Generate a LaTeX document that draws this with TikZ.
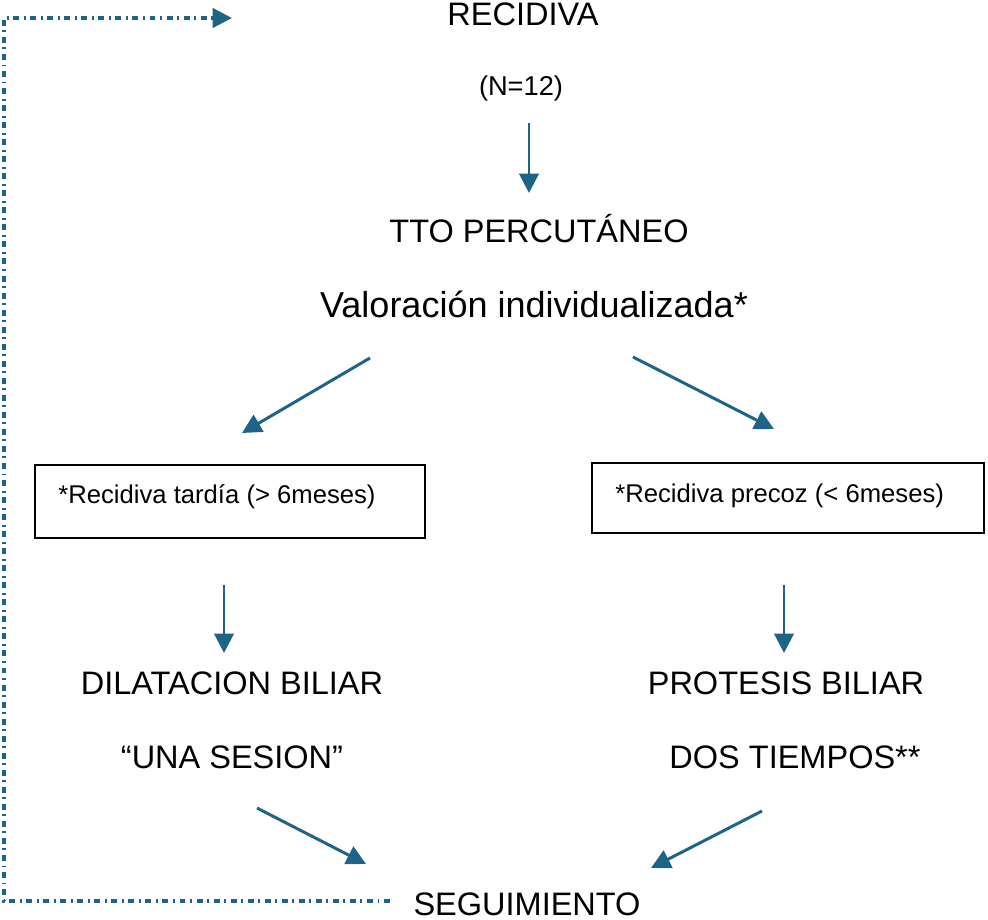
\documentclass[tikz,border=0pt]{standalone}
\usepackage{fontspec}
\setmainfont{Liberation Sans}
\usetikzlibrary{arrows.meta}
\definecolor{flecha}{RGB}{30,100,135}
\tikzset{
  flechita/.style={draw=flecha, line width=1.7pt, -{Triangle[length=11pt,width=11pt]}},
  retorno/.style={draw=flecha, line width=1.9pt, dash pattern=on 3.4pt off 2.6pt on 1.1pt off 2.6pt, -{Triangle[length=11pt,width=11pt]}},
  grande/.style={font=\fontsize{18.5}{20}\selectfont, anchor=base, inner sep=0pt},
  chico/.style={font=\fontsize{14.6}{16}\selectfont, anchor=base west, inner sep=0pt},
  caja/.style={draw, line width=1.5pt},
}

\begin{document}
\begin{tikzpicture}[x=0.02cm, y=-0.02cm]
	\useasboundingbox (0,0) rectangle (988,920);
	% textos
	\node[grande] (recidiva) at (523,25) {RECIDIVA};
	\node[grande, font=\fontsize{15.5}{17}\selectfont] (n) at (521,95) {(N=12)};
	\node[grande] (tto) at (539,242) {TTO PERCUTÁNEO};
	\node[grande, font=\fontsize{20.5}{22}\selectfont] (valor) at (534,317) {Valoración individualizada*};
	\node[grande] (dilat) at (232,694) {DILATACION BILIAR};
	\node[grande] (sesion) at (232,768) {“UNA SESION”};
	\node[grande] (protesis) at (786,694) {PROTESIS BILIAR};
	\node[grande] (tiempos) at (795,768) {DOS TIEMPOS**};
	\node[grande] (seguim) at (527,915) {SEGUIMIENTO};
	% cajas
	\draw[caja] (35,465) rectangle (425,538);
	\draw[caja] (592,463) rectangle (984,533);
	\node[chico] (tardia) at (58,503) {*Recidiva tardía (> 6meses)};
	\node[chico] (precoz) at (615,502) {*Recidiva precoz (< 6meses)};
	% extremos de las flechas
	\coordinate (a1) at (529,123);  \coordinate (b1) at (529,193);
	\coordinate (a2) at (370,358);  \coordinate (b2) at (242,433);
	\coordinate (a3) at (633,357);  \coordinate (b3) at (774,429);
	\coordinate (a4) at (224,585);  \coordinate (b4) at (224,653);
	\coordinate (a5) at (784,585);  \coordinate (b5) at (784,653);
	\coordinate (a6) at (257,808);  \coordinate (b6) at (366,864);
	\coordinate (a7) at (762,811);  \coordinate (b7) at (651,868);
	\foreach \i in {1,...,7} \draw[flechita] (a\i) -- (b\i);
	% vuelta al inicio
	\coordinate (r1) at (390,901);
	\coordinate (r2) at (232,18);
	\draw[retorno] (r1) -- (4,901) -- (4,18) -- (r2);
\end{tikzpicture}
\end{document}
